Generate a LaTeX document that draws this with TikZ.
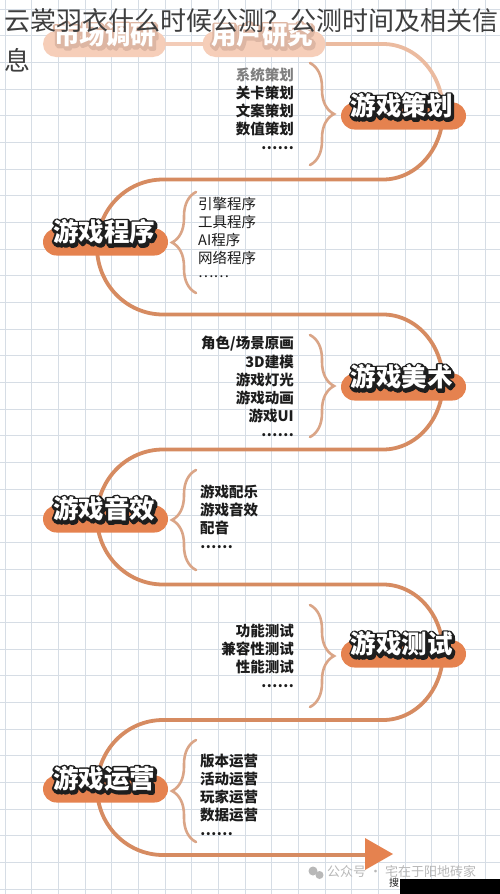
\documentclass[tikz,border=0pt]{standalone}
\usepackage{fontspec}
\setmainfont{Noto Sans CJK SC}
\usetikzlibrary{decorations.pathreplacing}
\definecolor{gridc}{HTML}{D6DDE5}
\definecolor{trackc}{HTML}{D68B61}
\definecolor{fadec}{HTML}{F3CCB8}
\definecolor{fadec2}{HTML}{EBBBA0}
\definecolor{pillc}{HTML}{E5824F}
\definecolor{pillfade}{HTML}{F6CEB9}
\definecolor{bracec}{HTML}{DAA587}
\definecolor{inkc}{HTML}{1C1C1C}
\definecolor{stkline}{HTML}{1E1E1E}
\definecolor{stkfade}{HTML}{DDB6A3}
\definecolor{titlec}{HTML}{3E3E3E}
\definecolor{wmc}{HTML}{B8B8B8}
\newcommand\outlon{\special{pdf:literal direct 2 Tr 4 w 1 j 1 J}}
\newcommand\outloff{\special{pdf:literal direct 0 Tr}}
\newcommand\sticker[6]{%
  \node[stk,text=#6,xshift=1.3pt,yshift=-1.7pt] at (#2,#3) {\outlon #4\outloff};
  \node[stk,text=#6] at (#2,#3) {\outlon #4\outloff};
  \node[stk,text=#5] (#1) at (#2,#3) {#4};
}
\begin{document}
\begin{tikzpicture}[x=1pt,y=-1pt,
  gridline/.style={draw=gridc,line width=0.9pt},
  track/.style={draw=trackc,line width=3.8pt,line cap=round},
  fadetrack/.style={draw=fadec,line width=3.8pt,line cap=round},
  pill/.style={fill=pillc,minimum width=125pt,minimum height=27pt,rounded corners=13.5pt,inner sep=0pt},
  fadepill/.style={fill=pillfade,minimum width=123pt,minimum height=26pt,rounded corners=13pt,inner sep=0pt},
  stk/.style={font=\fontsize{25.5}{28}\selectfont\bfseries,inner sep=0pt},
  brc/.style={draw=bracec,line width=2.6pt,line cap=round,decorate,decoration={brace,amplitude=24pt}},
  itemr/.style={font=\fontsize{14.5}{17}\selectfont\bfseries,text=inkc,inner sep=0pt,anchor=east},
  iteml/.style={font=\fontsize{14.5}{17}\selectfont\bfseries,text=inkc,inner sep=0pt,anchor=west},
  title/.style={font=\fontsize{26}{30}\selectfont,text=titlec,inner sep=0pt,anchor=west}]
\useasboundingbox (0,0) rectangle (500,894);
\fill[white] (0,0) rectangle (500,894);
% grid
\foreach \i in {0,...,18} \draw[gridline] ({5+26.67*\i},0) -- ({5+26.67*\i},894);
\foreach \j in {0,...,33} \draw[gridline] (0,{9+26.67*\j}) -- (500,{9+26.67*\j});
% top faded pills
\node[fadepill] (pa) at (104.5,44) {};
\node[fadepill] (pb) at (264,44) {};
\draw[fadetrack] (pa.east) -- (pb.west);
\draw[draw=fadec2,line width=3.8pt] (pb.east) -- (383,44) .. controls (416.14,44) and (443,74.3) .. (443,111.75);
% main track
\draw[track] (443,111.75) .. controls (443,149.2) and (416.14,179.5) .. (383,179.5) -- (163,179.5)
  .. controls (126.55,179.5) and (97,209.72) .. (97,247) .. controls (97,284.28) and (126.55,314.5) .. (163,314.5)
  -- (383,314.5) .. controls (416.14,314.5) and (443,344.72) .. (443,382) .. controls (443,419.28) and (416.14,449.5) .. (383,449.5)
  -- (163,449.5) .. controls (126.55,449.5) and (97,479.72) .. (97,517) .. controls (97,554.28) and (126.55,584.5) .. (163,584.5)
  -- (383,584.5) .. controls (416.14,584.5) and (443,614.83) .. (443,652.25) .. controls (443,689.67) and (416.14,720) .. (383,720)
  -- (163,720) .. controls (126.55,720) and (97,750.22) .. (97,787.5) .. controls (97,824.78) and (126.55,855) .. (163,855)
  -- (368,855);
\coordinate (tipa) at (365,838);
\coordinate (tipb) at (393,854);
\coordinate (tipc) at (365,870);
\fill[pillc] (tipa) -- (tipb) -- (tipc) -- cycle;
% pills
\node[pill] (p1) at (403.5,116) {};
\node[pill] (p2) at (105.5,242) {};
\node[pill] (p3) at (403.5,387) {};
\node[pill] (p4) at (105.5,519) {};
\node[pill] (p5) at (403.5,654) {};
\node[pill] (p6) at (105.5,789) {};
% sticker texts
\sticker{sa}{105}{35}{市场调研}{white}{stkfade}
\sticker{sb}{262}{35}{用户研究}{white}{stkfade}
\sticker{s1}{401.5}{106}{游戏策划}{white}{stkline}
\sticker{s2}{104}{232}{游戏程序}{white}{stkline}
\sticker{s3}{401.5}{377}{游戏美术}{white}{stkline}
\sticker{s4}{104}{509}{游戏音效}{white}{stkline}
\sticker{s5}{401.5}{644}{游戏测试}{white}{stkline}
\sticker{s6}{104}{779}{游戏运营}{white}{stkline}
% braces
\draw[brc] (310,63) -- (310,165);
\draw[brc] (196,293) -- (196,192);
\draw[brc] (310,335) -- (310,437);
\draw[brc] (196,570) -- (196,470);
\draw[brc] (310,605) -- (310,707);
\draw[brc] (196,842) -- (196,740);
% items 1
\node[itemr,text=gray] (a1) at (294,75) {系统策划};
\node[itemr] (a2) at (294,93) {关卡策划};
\node[itemr] (a3) at (294,111) {文案策划};
\node[itemr] (a4) at (294,129) {数值策划};
\node[itemr] (a5) at (294,148) {……};
% items 2
\node[iteml,font=\fontsize{14.5}{17}\selectfont] (b1) at (198,204) {引擎程序};
\node[iteml,font=\fontsize{14.5}{17}\selectfont] (b2) at (198,222) {工具程序};
\node[iteml,font=\fontsize{14.5}{17}\selectfont] (b3) at (198,240) {AI程序};
\node[iteml,font=\fontsize{14.5}{17}\selectfont] (b4) at (198,258) {网络程序};
\node[iteml,font=\fontsize{14.5}{17}\selectfont] (b5) at (198,277) {……};
% items 3
\node[itemr] (c1) at (294,344) {角色/场景原画};
\node[itemr] (c2) at (294,362) {3D建模};
\node[itemr] (c3) at (294,380) {游戏灯光};
\node[itemr] (c4) at (294,398) {游戏动画};
\node[itemr] (c5) at (294,416) {游戏UI};
\node[itemr] (c6) at (294,435) {……};
% items 4
\node[iteml] (d1) at (200,492) {游戏配乐};
\node[iteml] (d2) at (200,510) {游戏音效};
\node[iteml] (d3) at (200,528) {配音};
\node[iteml] (d4) at (200,547) {……};
% items 5
\node[itemr] (e1) at (294,631) {功能测试};
\node[itemr] (e2) at (294,649) {兼容性测试};
\node[itemr] (e3) at (294,667) {性能测试};
\node[itemr] (e4) at (294,686) {……};
% items 6
\node[iteml] (f1) at (200,761) {版本运营};
\node[iteml] (f2) at (200,779) {活动运营};
\node[iteml] (f3) at (200,797) {玩家运营};
\node[iteml] (f4) at (200,815) {数据运营};
\node[iteml] (f5) at (200,834) {……};
% title overlay
\node[title] (t1) at (4,21) {云裳羽衣什么时候公测？公测时间及相关信};
\node[title] (t2) at (4,60) {息};
% watermark
\fill[wmc] (313,871) circle (4.5);
\fill[wmc] (319.5,875) circle (4);
\node[font=\fontsize{13}{15}\selectfont,text=wmc,inner sep=0pt,anchor=west] (wm) at (327,872) {公众号 · 宅在于阳地砖家};
\fill[black] (400,879) rectangle (500,894);
\node[font=\fontsize{10}{12}\selectfont,text=inkc,inner sep=0pt] (so) at (394,883) {搜};
\end{tikzpicture}
\end{document}
